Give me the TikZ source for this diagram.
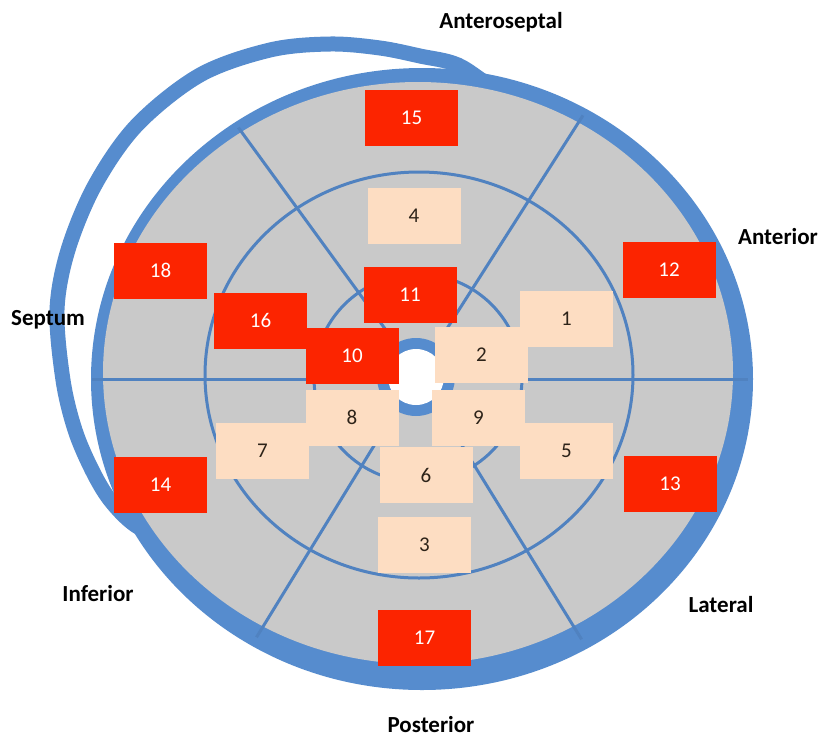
\documentclass[tikz,border=0pt]{standalone}
\usepackage{fontspec}
\setmainfont{Carlito}
\definecolor{ringblue}{RGB}{86,140,206}
\definecolor{lineblue}{RGB}{80,130,192}
\definecolor{segred}{RGB}{252,36,0}
\definecolor{segpeach}{RGB}{253,221,194}
\definecolor{seggray}{RGB}{201,201,201}
\definecolor{numdark}{RGB}{45,35,25}
\begin{document}
\begin{tikzpicture}[x=1pt,y=-1pt,
  redbox/.style={fill=segred, text=white, minimum width=93pt, minimum height=56pt, inner sep=0pt, font=\fontsize{21}{24}\selectfont},
  peachbox/.style={fill=segpeach, text=numdark, minimum width=93pt, minimum height=56pt, inner sep=0pt, font=\fontsize{21}{24}\selectfont},
  wall/.style={font=\bfseries\fontsize{23}{27}\selectfont, text=black, inner sep=0pt},
  thinline/.style={draw=lineblue, line width=3pt}]
\useasboundingbox (0,0) rectangle (820,740);
\fill[white] (0,0) rectangle (820,740);
% loop (its ends run into the ring and are hidden under it)
\draw[ringblue, line width=15pt] plot[smooth, tension=0.55] coordinates {(540,100) (498,90) (458,65) (420,56) (380,48) (330,44) (270,50) (200,75) (137,125) (95,185) (68,250) (57,310) (63,380) (75,430) (92,470) (110,500) (135,525) (170,542)};
% outer ring and gray disc
\fill[ringblue] (422,379) ellipse [x radius=331pt, y radius=311pt];
\fill[seggray] (418,373) ellipse [x radius=315pt, y radius=291pt];
% circles
\draw[thinline] (419,375) ellipse [x radius=214pt, y radius=203pt];
\draw[thinline] (418,378) circle [radius=104pt];
% radial lines
\coordinate (c) at (418,374);
\coordinate (tl) at (141,-6);
\coordinate (tr) at (663,-10);
\coordinate (bl) at (218,700);
\coordinate (br) at (619,700);
\coordinate (hl) at (92,379);
\coordinate (hr) at (748,379);
\begin{scope}
\clip (421,377) ellipse [x radius=324pt, y radius=302pt];
\draw[thinline] (c) -- (tl);
\draw[thinline] (c) -- (tr);
\draw[thinline] (c) -- (bl);
\draw[thinline] (c) -- (br);
\end{scope}
\draw[thinline] (hl) -- (hr);
% centre hole
\fill[ringblue] (416,377) circle [radius=39pt];
\fill[white] (416,377) circle [radius=28pt];
% segments
\node[redbox] (s15) at (411.5,117.5) {15};
\node[peachbox] (s4) at (414,216) {4};
\node[redbox] (s18) at (160.5,270.5) {18};
\node[redbox] (s12) at (669,270) {12};
\node[redbox] (s14) at (160.5,485) {14};
\node[redbox] (s13) at (670,484) {13};
\node[redbox] (s17) at (424.5,638) {17};
\node[peachbox] (s3) at (424.5,545) {3};
\node[redbox] (s11) at (410,295) {11};
\node[redbox] (s16) at (260.5,320.5) {16};
\node[redbox] (s10) at (352,356) {10};
\node[peachbox] (s1) at (566.5,319) {1};
\node[peachbox] (s2) at (481.5,355) {2};
\node[peachbox] (s7) at (262.5,451) {7};
\node[peachbox] (s8) at (352,417.5) {8};
\node[peachbox] (s9) at (478.5,417.5) {9};
\node[peachbox] (s5) at (566.5,451) {5};
\node[peachbox] (s6) at (426,475) {6};
% wall labels
\node[wall] (as) at (501,22) {Anteroseptal};
\node[wall] (an) at (778,237) {Anterior};
\node[wall] (se) at (48,320) {Septum};
\node[wall] (inf) at (98,594) {Inferior};
\node[wall] (la) at (721,605) {Lateral};
\node[wall] (po) at (431,725) {Posterior};
\end{tikzpicture}
\end{document}
